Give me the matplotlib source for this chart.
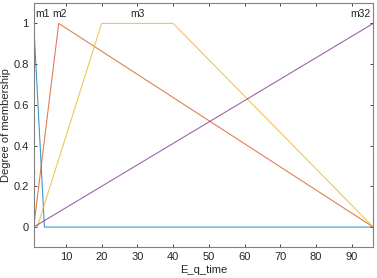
import matplotlib
matplotlib.use("Agg")
import matplotlib.pyplot as plt

plt.rcParams['font.family'] = ['Liberation Sans', 'DejaVu Sans']

# Membership functions (breakpoints)
m1_x = [1, 4, 96]
m1_y = [1, 0, 0]
m2_x = [1, 8, 96]
m2_y = [0, 1, 0]
m3_x = [1, 2, 20, 40, 96]
m3_y = [0, 0, 1, 1, 0]
m32_x = [1, 96]
m32_y = [0, 1]

labels = ["m1", "m2", "m3", "m32"]
label_x = [3.6, 8.1, 30.0, 92.3]

colors = ["#0072BD", "#D95319", "#EDB120", "#7E2F8E"]

fig = plt.figure(figsize=(3.77, 2.78), dpi=100)
ax = fig.add_axes([0.0894, 0.110, 0.9006, 0.879])

for (xs, ys), c in zip([(m1_x, m1_y), (m2_x, m2_y), (m3_x, m3_y), (m32_x, m32_y)], colors):
    ax.plot(xs, ys, color=c, lw=0.8, alpha=0.75)

for t, lx in zip(labels, label_x):
    ax.text(lx, 1.046, t, ha='center', va='center', fontsize=7.5, color='#222222')

ax.set_xlim(1, 96)
ax.set_ylim(-0.1, 1.1)
ax.set_xticks([10, 20, 30, 40, 50, 60, 70, 80, 90])
ax.set_yticks([0, 0.2, 0.4, 0.6, 0.8, 1])
ax.set_yticklabels(['0', '0.2', '0.4', '0.6', '0.8', '1'])
ax.tick_params(direction='in', length=2.5, width=0.6, labelsize=8, colors='#262626',
               top=True, right=True, pad=3.5)
for sp in ax.spines.values():
    sp.set_color('#808080')
    sp.set_linewidth(0.8)
ax.set_xlabel('E_q_time', fontsize=8, color='#262626', labelpad=2)
ax.set_ylabel('Degree of membership', fontsize=8, color='#262626', labelpad=2)

fig.savefig('out.png', dpi=100)
